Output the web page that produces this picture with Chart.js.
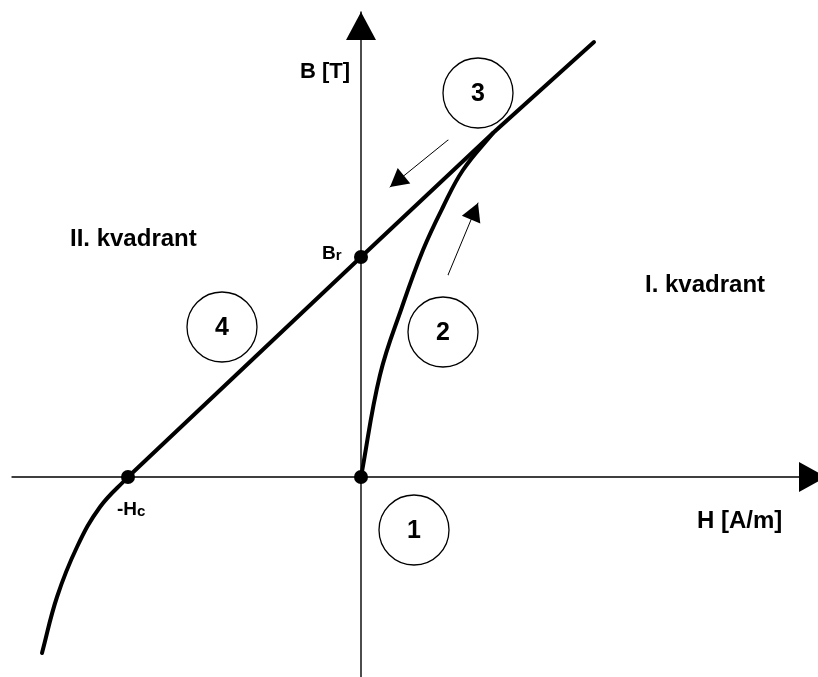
<!DOCTYPE html>
<html>
<head>
<meta charset="utf-8">
<script src="https://cdn.jsdelivr.net/npm/chart.js@4/dist/chart.umd.min.js"></script>
<style>
  html, body { margin: 0; padding: 0; background: #fff; }
  #wrap { width: 818px; height: 677px; }
</style>
</head>
<body>
<div id="wrap"><canvas id="chart"></canvas></div>
<script>
// axes (H horizontal, B vertical), ends at the arrow tips
const hAxis = [{ x: -34.9, y: 0 }, { x: 46.5, y: 0 }];
const bAxis = [{ x: 0, y: -20.0 }, { x: 0, y: 46.5 }];

// recoil / demagnetisation line (3 and 4): -Hc -> Br -> top
const mainLine = [
  { x: -23.3, y: 0 },
  { x: 0, y: 22.0 },
  { x: 13.2, y: 34.4 },
  { x: 23.3, y: 43.5 }
];

// knee below -Hc (III quadrant)
const kneeCurve = [
  { x: -23.3, y: 0 },
  { x: -26.1, y: -3.0 },
  { x: -28.4, y: -7.0 },
  { x: -30.4, y: -12.0 },
  { x: -31.9, y: -17.6 }
];

// initial magnetisation curve (2)
const initCurve = [
  { x: 0, y: 0 },
  { x: 1.9, y: 10.2 },
  { x: 4.1, y: 17.0 },
  { x: 6.2, y: 22.7 },
  { x: 8.2, y: 27.0 },
  { x: 10.2, y: 30.7 },
  { x: 13.2, y: 34.4 }
];

// marked points: -Hc, Br, origin
const keyPoints = [{ x: -23.3, y: 0 }, { x: 0, y: 22.0 }, { x: 0, y: 0 }];

// small direction arrows
const arrowDown = [{ x: 8.7, y: 33.7 }, { x: 2.9, y: 29.0 }];
const arrowUp = [{ x: 8.7, y: 20.2 }, { x: 11.7, y: 27.4 }];

// numbered stages
const stageNumbers = ['1', '2', '3', '4'];
const stageCenters = [
  { x: 5.3, y: -5.3 },
  { x: 8.2, y: 14.5 },
  { x: 11.7, y: 38.4 },
  { x: -13.9, y: 15.0 }
];

// text labels
const labelTexts = ['B [T]', 'H [A/m]', 'II. kvadrant', 'I. kvadrant'];
const labelAnchors = [
  { x: -1.1, y: 39.9, align: 'right' },
  { x: 33.6, y: -5.1, align: 'left' },
  { x: -29.1, y: 23.1, align: 'left' },
  { x: 28.4, y: 18.5, align: 'left' }
];
const subLabels = [
  { main: 'B', sub: 'r', x: -3.9, y: 21.8 },
  { main: '-H', sub: 'c', x: -24.4, y: -3.8 }
];

const FONT = '"Liberation Sans", Arial, sans-serif';

const lineDs = (data, width, extra) => Object.assign({
  data,
  showLine: true,
  borderColor: '#000',
  borderWidth: width,
  pointRadius: 0,
  borderCapStyle: 'round',
  borderJoinStyle: 'round',
  fill: false,
  clip: false
}, extra || {});

const annotate = {
  id: 'annotate',
  afterDatasetsDraw(chart) {
    const { ctx } = chart;
    const sx = chart.scales.x, sy = chart.scales.y;
    const px = v => sx.getPixelForValue(v);
    const py = v => sy.getPixelForValue(v);

    ctx.save();
    ctx.fillStyle = '#000';

    // arrow heads at the last point of flagged datasets
    chart.data.datasets.forEach(ds => {
      if (!ds.arrow) return;
      const n = ds.data.length;
      const a = ds.data[n - 2], b = ds.data[n - 1];
      const x0 = px(a.x), y0 = py(a.y), x1 = px(b.x), y1 = py(b.y);
      const ang = Math.atan2(y1 - y0, x1 - x0);
      const [len, wid] = ds.arrow;
      ctx.save();
      ctx.translate(x1, y1);
      ctx.rotate(ang);
      ctx.beginPath();
      ctx.moveTo(0, 0);
      ctx.lineTo(-len, wid / 2);
      ctx.lineTo(-len, -wid / 2);
      ctx.closePath();
      ctx.fill();
      ctx.restore();
    });

    // stage numbers
    ctx.font = 'bold 25px ' + FONT;
    ctx.textAlign = 'center';
    ctx.textBaseline = 'middle';
    stageNumbers.forEach((t, i) => {
      ctx.fillText(t, px(stageCenters[i].x), py(stageCenters[i].y) + 1);
    });

    // axis / quadrant labels
    ctx.textBaseline = 'alphabetic';
    labelTexts.forEach((t, i) => {
      const a = labelAnchors[i];
      ctx.font = (i === 0 ? 'bold 22px ' : 'bold 24px ') + FONT;
      ctx.textAlign = a.align;
      ctx.fillText(t, px(a.x), py(a.y));
    });

    // labels with subscript
    ctx.textAlign = 'left';
    subLabels.forEach(l => {
      const x0 = px(l.x), y0 = py(l.y);
      ctx.font = 'bold 19px ' + FONT;
      ctx.fillText(l.main, x0, y0);
      const w = ctx.measureText(l.main).width;
      ctx.font = 'bold 15px ' + FONT;
      ctx.fillText(l.sub, x0 + w, y0 + 1);
    });

    ctx.restore();
  }
};

new Chart(document.getElementById('chart'), {
  type: 'scatter',
  data: {
    datasets: [
      lineDs(hAxis, 1.4, { arrow: [27, 30] }),
      lineDs(bAxis, 1.4, { arrow: [28, 30] }),
      lineDs(arrowDown, 1, { arrow: [18, 20] }),
      lineDs(arrowUp, 1, { arrow: [18, 20] }),
      lineDs(kneeCurve, 4, { tension: 0.4 }),
      lineDs(mainLine, 4, { tension: 0 }),
      lineDs(initCurve, 4, { tension: 0.4 }),
      {
        data: stageCenters,
        showLine: false,
        pointStyle: 'circle',
        pointRadius: 35,
        pointBorderWidth: 1.3,
        pointBorderColor: '#000',
        pointBackgroundColor: 'rgba(0,0,0,0)',
        clip: false
      },
      {
        data: keyPoints,
        showLine: false,
        pointStyle: 'circle',
        pointRadius: 7,
        pointBorderWidth: 0,
        pointBackgroundColor: '#000',
        clip: false
      }
    ]
  },
  options: {
    responsive: true,
    maintainAspectRatio: false,
    animation: false,
    layout: { padding: 0, autoPadding: false },
    plugins: {
      legend: { display: false },
      tooltip: { enabled: false },
      title: { display: false }
    },
    scales: {
      x: { type: 'linear', min: -36.1, max: 45.7, display: false },
      y: { type: 'linear', min: -20.0, max: 47.7, display: false }
    },
    events: []
  },
  plugins: [annotate]
});
</script>
</body>
</html>
